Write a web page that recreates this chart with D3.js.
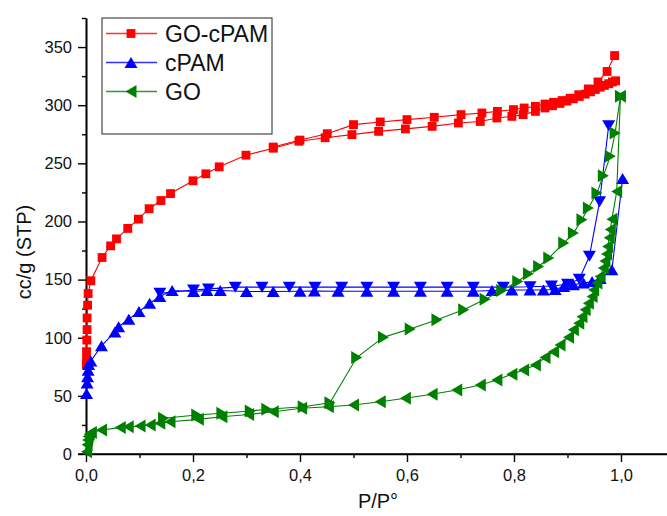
<!DOCTYPE html>
<html>
<head>
<meta charset="utf-8">
<script src="https://cdn.jsdelivr.net/npm/d3@7"></script>
<style>
  body { margin: 0; background: #fff; }
  svg { display: block; font-family: "Liberation Sans", Arial, sans-serif; }
</style>
</head>
<body>
<div id="root"></div>
<script>
// GO-cPAM (squares), adsorption then desorption
const goCpamAds = [
  [0.0005, 77], [0.001, 81], [0.001, 88], [0.0015, 98], [0.002, 107], [0.002, 117],
  [0.003, 128], [0.004, 138], [0.009, 149], [0.030, 169], [0.046, 179], [0.057, 185],
  [0.078, 194], [0.098, 202], [0.118, 211], [0.140, 218], [0.158, 224], [0.200, 235],
  [0.224, 241], [0.249, 247], [0.299, 257], [0.350, 263], [0.398, 269], [0.447, 272],
  [0.497, 274.7], [0.547, 277.5], [0.597, 279.6], [0.647, 281.8], [0.696, 284.7],
  [0.737, 286], [0.768, 289], [0.796, 290.4], [0.817, 291.9], [0.840, 294.7],
  [0.858, 297.6], [0.872, 299.5], [0.886, 301.5], [0.899, 303.5], [0.911, 305.5],
  [0.922, 307.5], [0.933, 309.5], [0.943, 311.5], [0.952, 313.5], [0.961, 315.5],
  [0.969, 317], [0.977, 318.5], [0.984, 320], [0.990, 321]
];
const goCpamDes = [
  [0.988, 342.7], [0.974, 329], [0.957, 320], [0.939, 314], [0.921, 309], [0.905, 306],
  [0.890, 304], [0.874, 302.5], [0.858, 301], [0.840, 299], [0.819, 297.6], [0.799, 296.2],
  [0.769, 294.7], [0.740, 293.3], [0.701, 291.9], [0.651, 289.6], [0.600, 287.6],
  [0.550, 285.6], [0.500, 283.3], [0.451, 275.5], [0.400, 270], [0.350, 264]
];

// cPAM (up / down triangles)
const cpamAds = [
  [0.001, 52], [0.002, 61], [0.003, 66.5], [0.004, 72], [0.005, 77], [0.009, 80],
  [0.029, 93], [0.054, 105], [0.061, 109.5], [0.080, 116], [0.099, 122.5], [0.119, 129.7],
  [0.138, 135.4], [0.161, 140.6], [0.201, 139.8], [0.226, 140.6], [0.251, 140.6],
  [0.300, 139.8], [0.350, 139.8], [0.400, 140], [0.427, 140.2], [0.471, 140], [0.525, 140],
  [0.575, 140], [0.625, 140], [0.675, 140], [0.724, 140], [0.759, 140.6], [0.796, 141],
  [0.830, 141], [0.855, 141], [0.877, 141.5], [0.893, 144], [0.911, 145.5], [0.930, 147],
  [0.946, 148.4], [0.961, 151], [0.983, 158.4], [1.003, 237]
];
const cpamDes = [
  [0.977, 282.4], [0.960, 217], [0.941, 170], [0.922, 150.4], [0.900, 146], [0.870, 144.5],
  [0.830, 143.8], [0.780, 143.5], [0.724, 143.5], [0.675, 143.5], [0.625, 143.5],
  [0.575, 143.5], [0.525, 143.5], [0.478, 143.5], [0.428, 143.5], [0.380, 143.5],
  [0.329, 143.5], [0.279, 143.5], [0.229, 142], [0.201, 141], [0.138, 138.3]
];

// GO (left / right triangles)
const goAds = [
  [0.001, 2], [0.002, 8], [0.003, 12], [0.004, 15], [0.006, 17], [0.010, 18.5],
  [0.029, 20.7], [0.064, 22.7], [0.079, 23.5], [0.101, 24], [0.120, 25], [0.138, 26.5],
  [0.157, 27.8], [0.210, 29.8], [0.254, 32], [0.304, 34], [0.350, 36.4], [0.403, 39.3],
  [0.453, 40.7], [0.500, 42.2], [0.550, 45], [0.597, 48], [0.647, 51.4], [0.693, 55],
  [0.737, 59.4], [0.768, 63.7], [0.796, 68.6], [0.818, 72.3], [0.840, 76.6], [0.858, 83],
  [0.874, 88], [0.886, 93.8], [0.902, 100.5], [0.911, 106.8], [0.921, 112.5], [0.927, 118],
  [0.933, 124], [0.939, 129.7], [0.946, 135.4], [0.949, 141], [0.955, 147], [0.961, 152.7],
  [0.967, 160], [0.970, 166], [0.973, 172], [0.975, 178.5], [0.978, 186], [0.980, 193],
  [0.983, 202], [0.992, 225.8], [0.999, 307.6]
];
const goDes = [
  [0.999, 307.6], [0.989, 276], [0.980, 256], [0.967, 239.4], [0.955, 224.5], [0.939, 211.5],
  [0.927, 201.5], [0.911, 190], [0.893, 181.4], [0.865, 168.5], [0.846, 161.3], [0.827, 155],
  [0.807, 148.4], [0.777, 140.6], [0.746, 133], [0.706, 124], [0.656, 115.4], [0.606, 107.6],
  [0.556, 100.5], [0.506, 83], [0.456, 44], [0.406, 40.7], [0.338, 38.5], [0.307, 37],
  [0.254, 35], [0.207, 33.6], [0.145, 30.7]
];

const legendNames = ["GO-cPAM", "cPAM", "GO"];
const xTicks = [0, 0.2, 0.4, 0.6, 0.8, 1.0];
const xMinorTicks = [0.1, 0.3, 0.5, 0.7, 0.9];
const yTicks = [0, 50, 100, 150, 200, 250, 300, 350];
const yMinorTicks = [25, 75, 125, 175, 225, 275, 325, 375];

const W = 667, H = 516;
const x = d3.scaleLinear().domain([0, 1.086]).range([86, 667]);
const y = d3.scaleLinear().domain([0, 375]).range([454, 18]);

const svg = d3.select("#root").append("svg").attr("width", W).attr("height", H);
svg.append("rect").attr("width", W).attr("height", H).attr("fill", "#fff");

const comma = d => d.toFixed(1).replace(".", ",");

// axes
let xAxis = svg.append("g").attr("transform", `translate(0,${y(0)})`)
  .call(d3.axisBottom(x).tickValues(xTicks).tickFormat(comma).tickSize(8).tickPadding(7).tickSizeOuter(0));
let xMinor = svg.append("g").attr("transform", `translate(0,${y(0)})`)
  .call(d3.axisBottom(x).tickValues(xMinorTicks).tickFormat("").tickSize(4).tickSizeOuter(0));
let yAxis = svg.append("g").attr("transform", `translate(${x(0)},0)`)
  .call(d3.axisLeft(y).tickValues(yTicks).tickSize(8).tickPadding(6).tickSizeOuter(0));
let yMinor = svg.append("g").attr("transform", `translate(${x(0)},0)`)
  .call(d3.axisLeft(y).tickValues(yMinorTicks).tickFormat("").tickSize(4).tickSizeOuter(0));

[xAxis, xMinor, yAxis, yMinor].forEach(g => {
  g.selectAll("path.domain").attr("stroke", "#000").attr("stroke-width", 1.6);
  g.selectAll(".tick line").attr("stroke", "#000").attr("stroke-width", 1.4);
  g.selectAll("text").attr("font-family", "Liberation Sans, Arial, sans-serif")
    .attr("font-size", 16.5).attr("fill", "#111");
});
// x axis line starts at y-axis
xAxis.select("path.domain").attr("d", `M${x(0) - 8},0H${W}`);

svg.append("text")
  .attr("x", 378).attr("y", 508)
  .attr("text-anchor", "middle").attr("font-size", 20).attr("fill", "#111")
  .text("P/P°");

svg.append("text")
  .attr("transform", `translate(31,252) rotate(-90)`)
  .attr("text-anchor", "middle").attr("font-size", 20).attr("fill", "#111")
  .text("cc/g (STP)");

// markers
const tri = "M0,-5.5L6.5,5.5L-6.5,5.5Z";
const square = d3.symbol().type(d3.symbolSquare).size(78)();

const line = d3.line().x(d => x(d[0])).y(d => y(d[1]));

const series = [
  { data: goCpamAds, color: "#ff0000", shape: square, rot: 0 },
  { data: goCpamDes, color: "#ff0000", shape: square, rot: 0 },
  { data: cpamAds, color: "#0000ff", shape: tri, rot: 0 },
  { data: cpamDes, color: "#0000ff", shape: tri, rot: 180 },
  { data: goAds, color: "#008000", shape: tri, rot: -90 },
  { data: goDes, color: "#008000", shape: tri, rot: 90 }
];

series.forEach(s => {
  let g = svg.append("g");
  g.append("path").datum(s.data)
    .attr("d", line).attr("fill", "none")
    .attr("stroke", s.color).attr("stroke-width", 1.1);
  g.selectAll(".pt").data(s.data).enter().append("path")
    .attr("class", "pt")
    .attr("d", s.shape)
    .attr("transform", d => `translate(${x(d[0])},${y(d[1])}) rotate(${s.rot})`)
    .attr("fill", s.color);
});

// legend
let legend = svg.append("g");
legend.append("rect")
  .attr("x", 102).attr("y", 18).attr("width", 170).attr("height", 116)
  .attr("fill", "#fff").attr("stroke", "#222").attr("stroke-width", 1);

const legendItems = [
  { color: "#ff0000", shape: square, rot: 0 },
  { color: "#0000ff", shape: tri, rot: 0 },
  { color: "#008000", shape: tri, rot: -90 }
];
const legendY = d3.scalePoint().domain(legendNames).range([33.5, 91.5]);

legendNames.forEach((name, i) => {
  let yy = legendY(name);
  let item = legendItems[i];
  legend.append("line")
    .attr("x1", 106).attr("x2", 157).attr("y1", yy).attr("y2", yy)
    .attr("stroke", item.color).attr("stroke-width", 1.5).attr("opacity", 0.8);
  legend.append("path")
    .attr("d", item.shape)
    .attr("transform", `translate(131,${yy}) rotate(${item.rot})`)
    .attr("fill", item.color);
  legend.append("text")
    .attr("x", 165).attr("y", yy + 8.5)
    .attr("font-size", 23).attr("fill", "#111")
    .text(name);
});
</script>
</body>
</html>
